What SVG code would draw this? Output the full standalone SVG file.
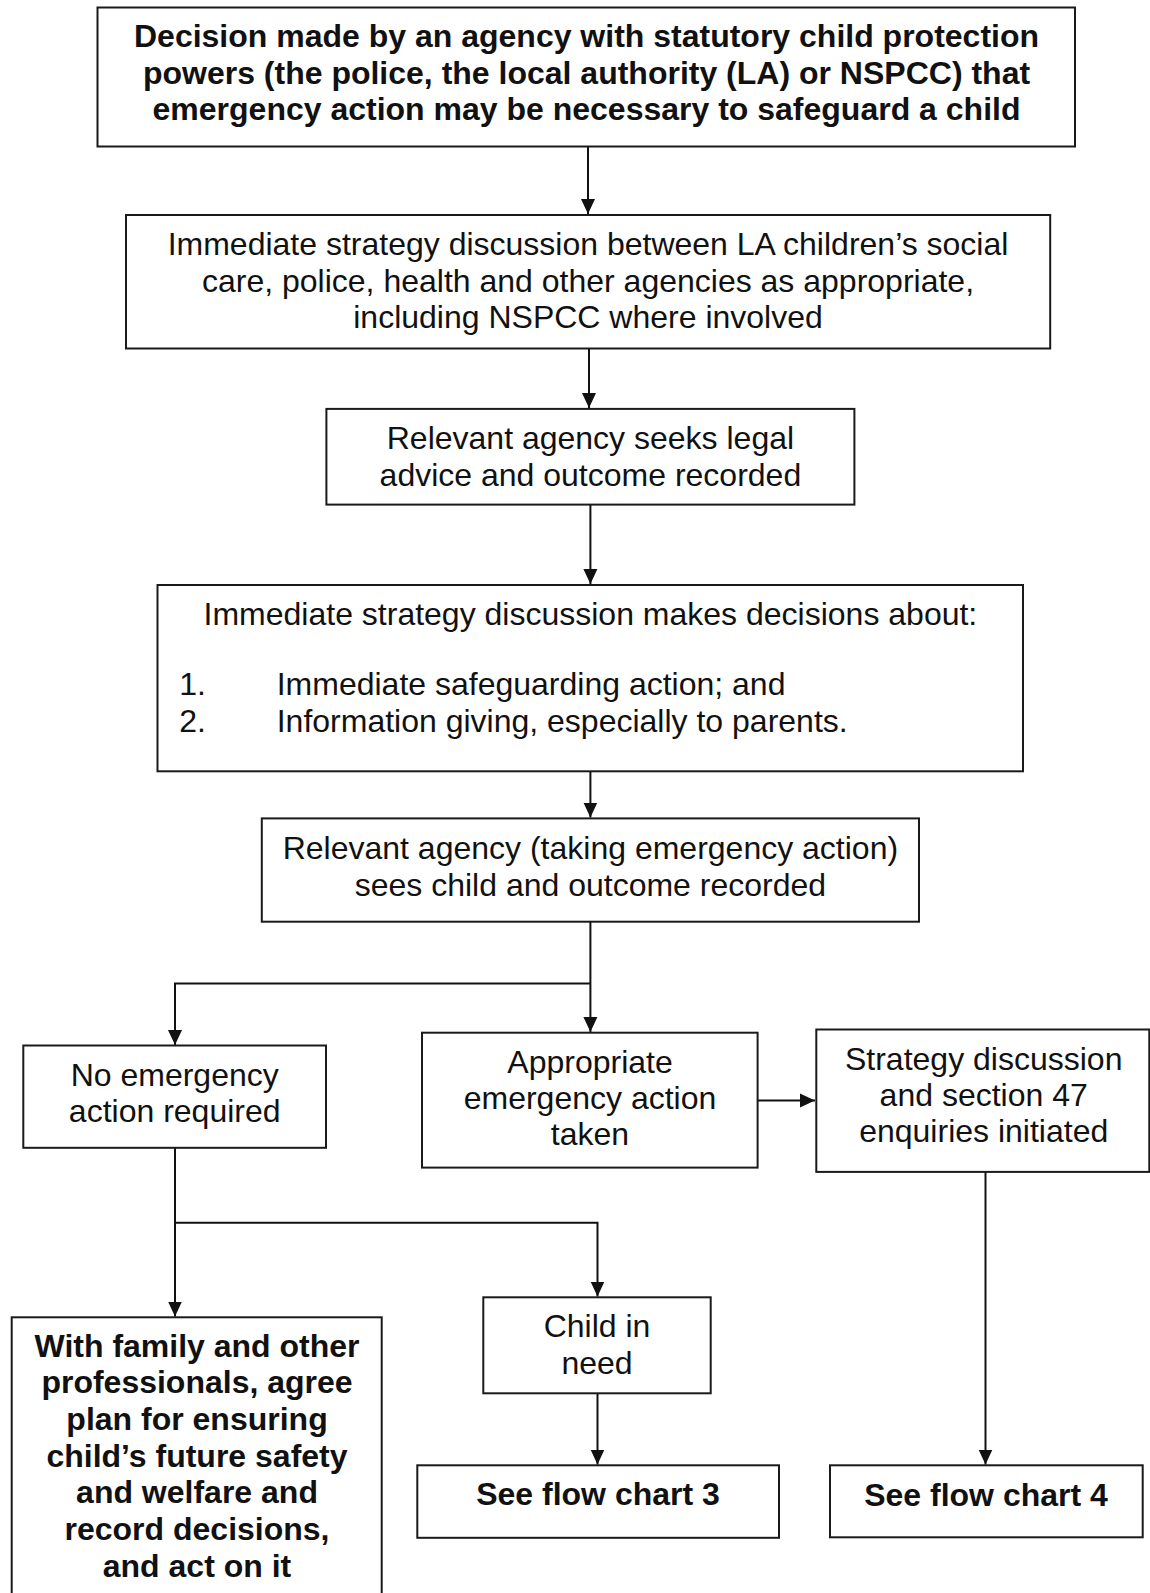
<svg xmlns="http://www.w3.org/2000/svg" width="1150" height="1593" viewBox="0 0 1150 1593">
<style>
  .box { fill: #fff; stroke: #1a1a1a; stroke-width: 2; }
  .t { font-family: "Liberation Sans", Arial, sans-serif; font-size: 32px; fill: #111; text-anchor: middle; }
  .b { font-weight: bold; }
  .l { text-anchor: start; }
  .c { fill: none; stroke: #111; stroke-width: 2; }
</style>
<defs>
  <marker id="ah" markerUnits="userSpaceOnUse" markerWidth="16" markerHeight="16" viewBox="0 0 16 16" refX="15" refY="8" orient="auto">
    <path d="M0,1 L15,8 L0,15 Z" fill="#111"/>
  </marker>
</defs>
<rect width="1150" height="1593" fill="#fff"/>

<g id="connectors">
  <path class="c" d="M588,146.5 V214" marker-end="url(#ah)"/>
  <path class="c" d="M589,349 V408" marker-end="url(#ah)"/>
  <path class="c" d="M590.4,504.6 V584" marker-end="url(#ah)"/>
  <path class="c" d="M590.4,771.3 V817.5" marker-end="url(#ah)"/>
  <path class="c" d="M590.4,921.7 V1032" marker-end="url(#ah)"/>
  <path class="c" d="M590.4,983.5 H175 V1045" marker-end="url(#ah)"/>
  <path class="c" d="M757.6,1100.5 H815" marker-end="url(#ah)"/>
  <path class="c" d="M175,1147.8 V1316.5" marker-end="url(#ah)"/>
  <path class="c" d="M175,1222.7 H597.5 V1296.5" marker-end="url(#ah)"/>
  <path class="c" d="M597.5,1393.3 V1464.5" marker-end="url(#ah)"/>
  <path class="c" d="M985.5,1171.9 V1464.5" marker-end="url(#ah)"/>
</g>

<g id="n1">
  <rect class="box" x="97.5" y="7.5" width="977.5" height="139"/>
  <text class="t b" x="586.5" y="47">Decision made by an agency with statutory child protection</text>
  <text class="t b" x="586.5" y="83.5">powers (the police, the local authority (LA) or NSPCC) that</text>
  <text class="t b" x="586.5" y="120">emergency action may be necessary to safeguard a child</text>
</g>

<g id="n2">
  <rect class="box" x="126" y="215" width="924.2" height="133.5"/>
  <text class="t" x="588" y="255">Immediate strategy discussion between LA children’s social</text>
  <text class="t" x="588" y="291.5">care, police, health and other agencies as appropriate,</text>
  <text class="t" x="588" y="328">including NSPCC where involved</text>
</g>

<g id="n3">
  <rect class="box" x="326.4" y="408.9" width="528" height="95.7"/>
  <text class="t" x="590.4" y="449">Relevant agency seeks legal</text>
  <text class="t" x="590.4" y="486">advice and outcome recorded</text>
</g>

<g id="n4">
  <rect class="box" x="157.5" y="585" width="865.5" height="186.3"/>
  <text class="t" x="590.4" y="625">Immediate strategy discussion makes decisions about:</text>
  <text class="t l" x="179.3" y="695">1.</text>
  <text class="t l" x="276.7" y="695">Immediate safeguarding action; and</text>
  <text class="t l" x="179.3" y="732">2.</text>
  <text class="t l" x="276.7" y="732">Information giving, especially to parents.</text>
</g>

<g id="n5">
  <rect class="box" x="261.8" y="818.4" width="657.2" height="103.3"/>
  <text class="t" x="590.4" y="858.6">Relevant agency (taking emergency action)</text>
  <text class="t" x="590.4" y="895.5">sees child and outcome recorded</text>
</g>

<g id="n6">
  <rect class="box" x="23.3" y="1045.5" width="302.7" height="102.3"/>
  <text class="t" x="174.7" y="1086">No emergency</text>
  <text class="t" x="174.7" y="1122">action required</text>
</g>

<g id="n7">
  <rect class="box" x="422" y="1032.7" width="335.6" height="134.9"/>
  <text class="t" x="590" y="1072.7">Appropriate</text>
  <text class="t" x="590" y="1109">emergency action</text>
  <text class="t" x="590" y="1145">taken</text>
</g>

<g id="n8">
  <rect class="box" x="816.3" y="1029.5" width="333" height="142.4"/>
  <text class="t" x="983.7" y="1070">Strategy discussion</text>
  <text class="t" x="983.7" y="1106">and section 47</text>
  <text class="t" x="983.7" y="1142">enquiries initiated</text>
</g>

<g id="n9">
  <rect class="box" x="483.3" y="1297.3" width="227.4" height="96"/>
  <text class="t" x="597" y="1337">Child in</text>
  <text class="t" x="597" y="1374">need</text>
</g>

<g id="n10">
  <rect class="box" x="11.7" y="1317.3" width="370" height="300"/>
  <text class="t b" x="197" y="1356.7">With family and other</text>
  <text class="t b" x="197" y="1393.3">professionals, agree</text>
  <text class="t b" x="197" y="1430">plan for ensuring</text>
  <text class="t b" x="197" y="1466.7">child’s future safety</text>
  <text class="t b" x="197" y="1503.3">and welfare and</text>
  <text class="t b" x="197" y="1540">record decisions,</text>
  <text class="t b" x="197" y="1576.7">and act on it</text>
</g>

<g id="n11">
  <rect class="box" x="417.3" y="1465.3" width="361.7" height="72.5"/>
  <text class="t b" x="598" y="1505">See flow chart 3</text>
</g>

<g id="n12">
  <rect class="box" x="830" y="1465.3" width="312.7" height="72"/>
  <text class="t b" x="986" y="1506">See flow chart 4</text>
</g>
</svg>
